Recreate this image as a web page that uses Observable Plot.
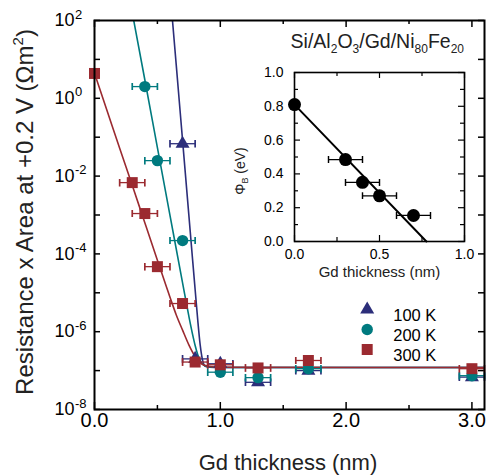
<!DOCTYPE html>
<html><head><meta charset="utf-8">
<script src="https://cdn.jsdelivr.net/npm/d3@7"></script>
<script src="https://cdn.jsdelivr.net/npm/@observablehq/plot@0.6"></script>
<style>body{margin:0;background:#fff;}</style>
</head><body><div id="chart"></div>
<script>
// ---------- data ----------
// measured points: Gd thickness (nm) and resistance x area (Ohm m^2)
const thick100 = [0.7, 0.8, 1.0, 1.3, 1.7, 3.0];
const ra100    = [0.068, 2.0e-7, 1.5e-7, 5.0e-8, 1.0e-7, 6.8e-8];
const err100   = [0.1, 0.1, 0.1, 0.1, 0.1, 0.1];

const thick200 = [0.4, 0.5, 0.7, 1.0, 1.3, 1.7, 3.0];
const ra200    = [2.0, 0.025, 2.2e-4, 9.1e-8, 6.6e-8, 1.12e-7, 7.4e-8];
const err200   = [0.1, 0.1, 0.1, 0.1, 0.1, 0.1, 0.1];

const thick300 = [0, 0.3, 0.4, 0.5, 0.7, 0.8, 1.0, 1.3, 1.7, 3.0];
const ra300    = [4.35, 6.8e-3, 1.09e-3, 4.7e-5, 5.3e-6, 1.66e-7, 1.41e-7, 1.17e-7, 1.82e-7, 1.12e-7];
const err300   = [0, 0.1, 0.1, 0.1, 0.1, 0.1, 0.1, 0.1, 0.1, 0.1];

// fit curves
const fitX100 = [0.61, 0.65, 0.7, 0.75, 0.78, 0.8, 0.82, 0.84, 0.86, 0.88, 0.95, 3.1];
const fitR100 = [240, 7.0, 0.083, 9.9e-4, 6.9e-5, 1.2e-5, 2.1e-6, 4.6e-7, 1.8e-7, 1.3e-7, 1.2e-7, 1.2e-7];
const fitX200 = [0.30, 0.4, 0.5, 0.6, 0.7, 0.75, 0.78, 0.8, 0.82, 0.85, 0.9, 1.0, 3.1];
const fitR200 = [160, 3.0, 0.054, 9.8e-4, 1.8e-5, 2.5e-6, 8.4e-7, 4.4e-7, 2.6e-7, 1.6e-7, 1.26e-7, 1.2e-7, 1.2e-7];
const fitX300 = [0, 0.1, 0.2, 0.3, 0.4, 0.5, 0.6, 0.65, 0.7, 0.75, 0.8, 0.85, 0.9, 1.0, 3.1];
const fitR300 = [4.4, 0.48, 0.052, 5.8e-3, 6.3e-4, 6.9e-5, 7.7e-6, 2.7e-6, 1.1e-6, 4.6e-7, 2.3e-7, 1.5e-7, 1.3e-7, 1.22e-7, 1.2e-7];

const seriesNames = ["100 K", "200 K", "300 K"];

// main axis ticks and labels
const xMajorTicks = [0, 1, 2, 3];
const xMinorTicks = [0.5, 1.5, 2.5];
const xTickLabels = ["0.0", "1.0", "2.0", "3.0"];
const yDecadeTicks = [1e2, 1e1, 1e0, 1e-1, 1e-2, 1e-3, 1e-4, 1e-5, 1e-6, 1e-7, 1e-8];
const yLabelValues = [1e2, 1e0, 1e-2, 1e-4, 1e-6, 1e-8];
const yLabelExps = ["2", "0", "-2", "-4", "-6", "-8"];

// inset: barrier height vs Gd thickness
const phiThick = [0, 0.3, 0.4, 0.5, 0.7];
const phiB     = [0.81, 0.485, 0.35, 0.27, 0.154];
const phiErr   = [0, 0.1, 0.1, 0.1, 0.1];
const phiFitX  = [0, 0.776];
const phiFitY  = [0.81, 0];
const insetXMajor = [0, 0.5, 1];
const insetXMinor = [0.25, 0.75];
const insetXLabels = ["0.0", "0.5", "1.0"];
const insetYMajor = [0, 0.2, 0.4, 0.6, 0.8, 1.0];
const insetYMinor = [0.1, 0.3, 0.5, 0.7, 0.9];
const insetYLabels = ["0.0", "0.2", "0.4", "0.6", "0.8", "1.0"];

// ---------- styling ----------
const FONT = "'Liberation Sans', Arial, Helvetica, sans-serif";
const navy = "#2c2e7a", teal = "#007a7f", maroon = "#9b2a30";
const styles = [
  {color: navy, symbol: "triangle", r: 5.2},
  {color: teal, symbol: "circle", r: 5.7},
  {color: maroon, symbol: "square", r: 6.2}
];

const rows = (xs, ys, es) => xs.map((x, i) => ({x, y: ys[i], e: es[i]}));
const fits = (xs, ys) => xs.map((x, i) => ({x, y: ys[i]}));
const pointSets = [rows(thick100, ra100, err100), rows(thick200, ra200, err200), rows(thick300, ra300, err300)];
const fitSets = [fits(fitX100, fitR100), fits(fitX200, fitR200), fits(fitX300, fitR300)];

const W = 486, H = 476, ML = 94, MR = 2, MT = 20, MB = 67;
const IW = W - ML - MR, IH = H - MT - MB;

const marks = [];
// ticks (inward, all four sides)
marks.push(
  Plot.tickX(xMajorTicks, {x: d => d, insetTop: IH - 7, stroke: "black", strokeWidth: 1.5}),
  Plot.tickX(xMinorTicks, {x: d => d, insetTop: IH - 4, stroke: "black", strokeWidth: 1.5}),
  Plot.tickX(xMajorTicks, {x: d => d, insetBottom: IH - 7, stroke: "black", strokeWidth: 1.5}),
  Plot.tickX(xMinorTicks, {x: d => d, insetBottom: IH - 4, stroke: "black", strokeWidth: 1.5}),
  Plot.tickY(yDecadeTicks, {y: d => d, insetRight: IW - 6, stroke: "black", strokeWidth: 1.5}),
  Plot.tickY(yDecadeTicks, {y: d => d, insetLeft: IW - 6, stroke: "black", strokeWidth: 1.5})
);
// fit curves
fitSets.forEach((f, i) => marks.push(
  Plot.line(f, {x: "x", y: "y", stroke: styles[i].color, strokeWidth: 1.6, curve: "monotone-x", clip: true})
));
// error bars and points
pointSets.forEach((p, i) => {
  const s = styles[i];
  marks.push(
    Plot.link(p.filter(d => d.e > 0), {x1: d => d.x - d.e, x2: d => d.x + d.e, y1: "y", y2: "y",
      stroke: s.color, strokeWidth: 1.3, markerStart: "tick", markerEnd: "tick"}),
    Plot.dot(p, {x: "x", y: "y", symbol: s.symbol, fill: s.color, r: s.r})
  );
});
// tick labels
marks.push(
  Plot.text(xMajorTicks, {x: d => d, frameAnchor: "bottom", dy: 17, text: (d, i) => xTickLabels[i], fontSize: 20, fill: "black"}),
  Plot.text(yLabelValues, {y: d => d, frameAnchor: "left", dx: -20, text: () => "10", textAnchor: "end", fontSize: 18, fill: "black"}),
  Plot.text(yLabelValues, {y: d => d, frameAnchor: "left", dx: -19.5, dy: -6, text: (d, i) => yLabelExps[i], textAnchor: "start", fontSize: 13, fill: "black"})
);
// legend
seriesNames.forEach((name, i) => {
  const s = styles[i];
  marks.push(
    Plot.dot([name], {frameAnchor: "top-left", dx: 272.7, dy: 289 + i * 20, symbol: s.symbol, fill: s.color, r: s.r}),
    Plot.text([name], {frameAnchor: "top-left", dx: 298.7, dy: 289 + i * 20, text: d => d, textAnchor: "start", fontSize: 16.5, fill: "black"})
  );
});
marks.push(Plot.frame({stroke: "black", strokeWidth: 2}));

const main = Plot.plot({
  width: W, height: H,
  marginLeft: ML, marginRight: MR, marginTop: MT, marginBottom: MB,
  style: {fontFamily: FONT, background: "white"},
  x: {domain: [0, 3.1], axis: null},
  y: {type: "log", domain: [1e-8, 1e2], axis: null},
  marks
});

// ---------- inset ----------
const inRows = phiThick.map((x, i) => ({x, y: phiB[i], e: phiErr[i]}));
const IWs = 250, IHs = 230, IML = 64, IMR = 16, IMT = 12, IMB = 49;
const iIW = IWs - IML - IMR, iIH = IHs - IMT - IMB;
const inset = Plot.plot({
  width: IWs, height: IHs,
  marginLeft: IML, marginRight: IMR, marginTop: IMT, marginBottom: IMB,
  style: {fontFamily: FONT, background: "transparent"},
  x: {domain: [0, 1], axis: null},
  y: {domain: [0, 1], axis: null},
  marks: [
    Plot.rect([0], {x1: 0, x2: 1, y1: 0, y2: 1, fill: "white"}),
    Plot.tickX(insetXMajor, {x: d => d, insetTop: iIH - 6, stroke: "black", strokeWidth: 1.2}),
    Plot.tickX(insetXMinor, {x: d => d, insetTop: iIH - 4, stroke: "black", strokeWidth: 1.2}),
    Plot.tickX(insetXMajor, {x: d => d, insetBottom: iIH - 6, stroke: "black", strokeWidth: 1.2}),
    Plot.tickX(insetXMinor, {x: d => d, insetBottom: iIH - 4, stroke: "black", strokeWidth: 1.2}),
    Plot.tickY(insetYMajor, {y: d => d, insetRight: iIW - 6, stroke: "black", strokeWidth: 1.2}),
    Plot.tickY(insetYMinor, {y: d => d, insetRight: iIW - 4, stroke: "black", strokeWidth: 1.2}),
    Plot.tickY(insetYMajor, {y: d => d, insetLeft: iIW - 6, stroke: "black", strokeWidth: 1.2}),
    Plot.tickY(insetYMinor, {y: d => d, insetLeft: iIW - 4, stroke: "black", strokeWidth: 1.2}),
    Plot.line(phiFitX.map((x, i) => ({x, y: phiFitY[i]})), {x: "x", y: "y", stroke: "black", strokeWidth: 2}),
    Plot.link(inRows.filter(d => d.e > 0), {x1: d => d.x - d.e, x2: d => d.x + d.e, y1: "y", y2: "y",
      stroke: "black", strokeWidth: 1.2, markerStart: "tick", markerEnd: "tick"}),
    Plot.dot(inRows, {x: "x", y: "y", r: 6.5, fill: "black"}),
    Plot.frame({stroke: "black", strokeWidth: 1.6}),
    Plot.text(insetXMajor, {x: d => d, frameAnchor: "bottom", dy: 17, text: (d, i) => insetXLabels[i], fontSize: 14, fill: "black"}),
    Plot.text(insetYMajor, {y: d => d, frameAnchor: "left", dx: -11, text: (d, i) => insetYLabels[i], textAnchor: "end", fontSize: 14, fill: "black"}),
    Plot.text(["Gd thickness (nm)"], {frameAnchor: "bottom", dy: 35, text: d => d, fontSize: 15, fill: "#222"})
  ]
});

// place inset inside the main svg
const svg = d3.select(main);
const g = svg.append("g").attr("transform", "translate(230,60)");
for (const child of Array.from(inset.childNodes)) {
  if (child.tagName && child.tagName.toLowerCase() === "style") continue;
  g.node().appendChild(child);
}
// inset y label  Φ_B (eV)
const iyl = g.append("text").attr("transform", "translate(15,111) rotate(-90)")
  .attr("text-anchor", "middle").attr("font-size", 14).attr("fill", "#222");
iyl.append("tspan").text("Φ");
iyl.append("tspan").attr("font-size", 9).attr("dy", 3).text("B");
iyl.append("tspan").attr("dy", -3).text(" (eV)");

// main axis titles
const yt = svg.append("text").attr("transform", "translate(33,212) rotate(-90)")
  .attr("text-anchor", "middle").attr("font-size", 24).attr("fill", "#222");
yt.append("tspan").text("Resistance x Area at +0.2 V (Ωm");
yt.append("tspan").attr("font-size", 15).attr("dy", -10).text("2");
yt.append("tspan").attr("dy", 10).text(")");

svg.append("text").attr("x", 288).attr("y", 470).attr("text-anchor", "middle")
  .attr("font-size", 22).attr("fill", "#222").text("Gd thickness (nm)");

// sample stack title
const st = svg.append("text").attr("x", 464).attr("y", 48).attr("text-anchor", "end")
  .attr("font-size", 19.5).attr("fill", "#222");
const parts = [["Si/Al", 0], ["2", 1], ["O", 0], ["3", 1], ["/Gd/Ni", 0], ["80", 1], ["Fe", 0], ["20", 1]];
let shifted = false;
for (const [t, sub] of parts) {
  const ts = st.append("tspan").text(t);
  if (sub) { ts.attr("font-size", 12).attr("dy", 5); shifted = true; }
  else if (shifted) { ts.attr("dy", -5); shifted = false; }
}

document.getElementById("chart").appendChild(main);
</script>
</body></html>
